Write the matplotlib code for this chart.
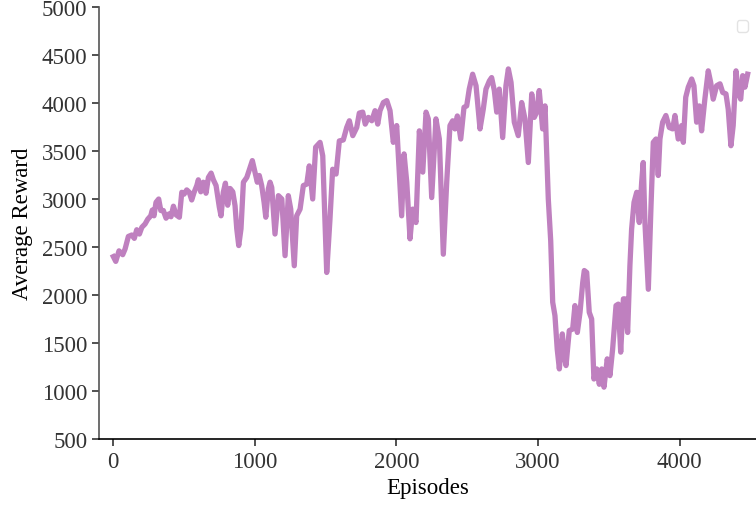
import numpy as np
import matplotlib
matplotlib.use("Agg")
import matplotlib.pyplot as plt

plt.rcParams['font.family'] = ['Liberation Serif', 'DejaVu Serif']

# episode / average reward
episodes = [2, 19, 42, 68, 85, 108, 132, 150, 167, 186, 203, 226, 245, 266, 277, 289,
            303, 322, 337, 355, 374, 395, 409, 426, 445, 468, 485, 501, 520, 538, 555,
            572, 591, 602, 619, 637, 656, 673, 692, 708, 727, 750, 762, 778, 793, 809,
            826, 845, 861, 873, 887, 903, 920, 944, 967, 983, 1002, 1018, 1032, 1049,
            1066, 1078, 1096, 1108, 1120, 1143, 1167, 1191, 1214, 1237, 1254, 1279,
            1296, 1320, 1343, 1367, 1385, 1409, 1430, 1461, 1480, 1508, 1531, 1550,
            1574, 1597, 1625, 1649, 1668, 1692, 1720, 1738, 1762, 1780, 1802, 1826,
            1849, 1868, 1884, 1908, 1932, 1955, 1978, 2002, 2037, 2054, 2073, 2096,
            2115, 2138, 2162, 2186, 2209, 2225, 2249, 2279, 2303, 2331, 2355, 2378,
            2397, 2413, 2430, 2454, 2477, 2496, 2514, 2538, 2562, 2590, 2613, 2632,
            2656, 2672, 2691, 2708, 2726, 2750, 2773, 2790, 2809, 2832, 2860, 2884,
            2907, 2931, 2955, 2973, 2990, 3008, 3032, 3049, 3072, 3089, 3103, 3119,
            3135, 3150, 3171, 3185, 3197, 3220, 3244, 3260, 3277, 3296, 3315, 3326,
            3343, 3361, 3378, 3394, 3414, 3432, 3449, 3465, 3488, 3507, 3526, 3550,
            3566, 3583, 3602, 3613, 3632, 3648, 3660, 3677, 3696, 3714, 3731, 3742,
            3754, 3778, 3797, 3813, 3832, 3848, 3860, 3879, 3902, 3926, 3950, 3966,
            3989, 4013, 4025, 4042, 4060, 4084, 4100, 4119, 4138, 4154, 4177, 4201,
            4218, 4236, 4260, 4284, 4303, 4326, 4342, 4361, 4377, 4397, 4413, 4430,
            4444, 4460, 4479]

rewards = [2400, 2350, 2460, 2420, 2480, 2610, 2625, 2590, 2680, 2635, 2705, 2740,
           2790, 2825, 2885, 2825, 2965, 3000, 2880, 2880, 2800, 2845, 2815, 2925,
           2835, 2810, 3070, 3050, 3095, 3070, 2990, 3070, 3140, 3200, 3075, 3175,
           3060, 3225, 3270, 3200, 3140, 2915, 2825, 3070, 3165, 2935, 3110, 3075,
           2930, 2690, 2515, 2690, 3175, 3225, 3330, 3400, 3280, 3175, 3245, 3140,
           2965, 2810, 3105, 3175, 3120, 2635, 3035, 3000, 2410, 3035, 2895, 2305,
           2825, 2895, 3140, 3155, 3345, 3000, 3540, 3590, 3450, 2235, 2790, 3310,
           3260, 3605, 3615, 3745, 3815, 3660, 3745, 3895, 3905, 3780, 3850, 3815,
           3920, 3780, 3920, 4005, 4025, 3920, 3590, 3765, 2825, 3470, 3175, 2585,
           2895, 2755, 3710, 3280, 3905, 3835, 3015, 3835, 3625, 2425, 3175, 3765,
           3815, 3730, 3865, 3625, 3955, 3970, 4145, 4300, 4180, 3730, 3935, 4145,
           4230, 4265, 4130, 3905, 4145, 3640, 4180, 4355, 4215, 3800, 3660, 4005,
           3835, 3380, 4095, 3850, 3905, 4130, 3730, 3970, 3000, 2565, 1925, 1785,
           1435, 1230, 1595, 1365, 1265, 1630, 1645, 1890, 1610, 1820, 2130, 2255,
           2235, 1820, 1750, 1125, 1230, 1070, 1230, 1040, 1335, 1160, 1435, 1890,
           1905, 1405, 1960, 1960, 1610, 2305, 2685, 2965, 3070, 2755, 3175, 3380,
           2755, 2060, 2930, 3590, 3625, 3245, 3625, 3800, 3870, 3745, 3730, 3870,
           3625, 3765, 3590, 4060, 4165, 4250, 4180, 3800, 3970, 3710, 4040, 4335,
           4215, 4040, 4180, 4200, 4110, 4095, 3935, 3555, 3765, 4335, 4110, 4040,
           4285, 4165, 4300]

x_ticks = [0, 1000, 2000, 3000, 4000]
y_ticks = [500, 1000, 1500, 2000, 2500, 3000, 3500, 4000, 4500, 5000]

fig = plt.figure(figsize=(7.56, 5.06), dpi=100)
ax = fig.add_axes([0.131, 0.1304, 0.869, 0.8538])

ax.plot(episodes, rewards, color='#bf80bf', linewidth=3.8, solid_joinstyle='round')

ax.set_xlim(-99, 4538)
ax.set_ylim(500, 5000)
ax.set_xticks(x_ticks)
ax.set_yticks(y_ticks)
ax.tick_params(labelsize=16.5, colors='#333333', length=5, width=1.2)
ax.set_xlabel('Episodes', fontsize=16.5, labelpad=4)
ax.set_ylabel('Average Reward', fontsize=16.5, labelpad=6)

ax.spines['top'].set_visible(False)
ax.spines['right'].set_visible(False)
ax.spines['left'].set_color('#555555')
ax.spines['left'].set_linewidth(1.2)
ax.spines['bottom'].set_color('black')
ax.spines['bottom'].set_linewidth(1.2)

leg = ax.legend(handles=[], loc='upper right', fontsize=10, borderpad=0.4,
                bbox_to_anchor=(0.998, 0.985))
leg.get_frame().set_edgecolor('#dddddd')

fig.savefig('out.png', dpi=100)
